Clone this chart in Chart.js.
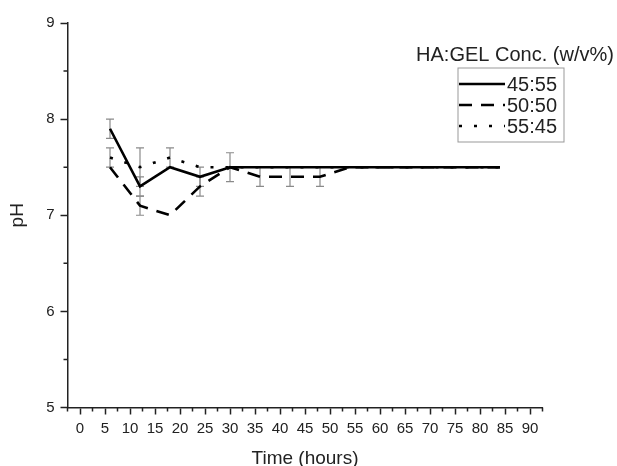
<!DOCTYPE html>
<html lang="en">
<head>
  <meta charset="UTF-8">
  <title>pH vs Time</title>
  <style>
    body {
      margin: 0;
      background-color: #fff;
    }
    #wrap {
      width: 617px;
      height: 466px;
    }
  </style>
</head>
<body>
  <div id="wrap"><canvas id="chart" width="617" height="466"></canvas></div>

  <script src="https://cdn.jsdelivr.net/npm/chart.js"></script>
  <script>
    const hours = [6, 12, 18, 24, 30, 36, 42, 48, 54, 60, 66, 72, 78, 84];
    const ph4555 = [7.9, 7.3, 7.5, 7.4, 7.5, 7.5, 7.5, 7.5, 7.5, 7.5, 7.5, 7.5, 7.5, 7.5];
    const ph5050 = [7.5, 7.1, 7.0, 7.3, 7.5, 7.4, 7.4, 7.4, 7.5, 7.5, 7.5, 7.5, 7.5, 7.5];
    const ph5545 = [7.6, 7.5, 7.6, 7.5, 7.5, 7.5, 7.5, 7.5, 7.5, 7.5, 7.5, 7.5, 7.5, 7.5];
    // standard deviations (0 = no bar drawn)
    const err4555 = [0.1, 0.1, 0, 0.1, 0.15, 0, 0, 0, 0, 0, 0, 0, 0, 0];
    const err5050 = [0, 0.1, 0, 0.1, 0, 0.1, 0.1, 0.1, 0, 0, 0, 0, 0, 0];
    const err5545 = [0.1, 0.2, 0.1, 0, 0, 0, 0, 0, 0, 0, 0, 0, 0, 0];
    const seriesNames = ['45:55', '50:50', '55:45'];
    const legendTitle = 'HA:GEL Conc. (w/v%)';

    const FONT = 'Arial, "Liberation Sans", sans-serif';
    const errors = [err4555, err5050, err5545];

    function pts(vals) {
      return hours.map((h, i) => ({ x: h, y: vals[i] }));
    }

    // error bars drawn from the scales
    const errorBars = {
      id: 'errorBars',
      beforeDatasetsDraw(chart) {
        const ctx = chart.ctx;
        const xs = chart.scales.x, ys = chart.scales.y;
        ctx.save();
        ctx.strokeStyle = '#8a8a8a';
        ctx.lineWidth = 1.2;
        chart.data.datasets.forEach((ds, d) => {
          ds.data.forEach((p, i) => {
            const e = errors[d][i];
            if (!e) return;
            const px = xs.getPixelForValue(p.x);
            const top = ys.getPixelForValue(p.y + e);
            const bot = ys.getPixelForValue(p.y - e);
            ctx.beginPath();
            ctx.moveTo(px, top); ctx.lineTo(px, bot);
            ctx.moveTo(px - 4, top); ctx.lineTo(px + 4, top);
            ctx.moveTo(px - 4, bot); ctx.lineTo(px + 4, bot);
            ctx.stroke();
          });
        });
        ctx.restore();
      }
    };

    // short minor ticks
    const minorTicks = {
      id: 'minorTicks',
      afterDraw(chart) {
        const ctx = chart.ctx;
        const xs = chart.scales.x, ys = chart.scales.y;
        ctx.save();
        ctx.strokeStyle = '#222';
        ctx.lineWidth = 1.5;
        ctx.beginPath();
        xs.ticks.forEach(t => {
          if (t.value % 5 !== 0) {
            const px = xs.getPixelForValue(t.value);
            ctx.moveTo(px, ys.bottom); ctx.lineTo(px, ys.bottom + 4);
          }
        });
        ys.ticks.forEach(t => {
          if (t.value % 1 !== 0) {
            const py = ys.getPixelForValue(t.value);
            ctx.moveTo(xs.left, py); ctx.lineTo(xs.left - 4, py);
          }
        });
        ctx.stroke();
        ctx.restore();
      }
    };

    // boxed legend with a title above it
    const boxLegend = {
      id: 'boxLegend',
      afterDraw(chart) {
        const ctx = chart.ctx;
        const bx = 458, by = 68, bw = 106, rowH = 21;
        ctx.save();
        ctx.fillStyle = '#222';
        ctx.font = '20px ' + FONT;
        ctx.textAlign = 'center';
        ctx.textBaseline = 'middle';
        ctx.fillText(legendTitle, 515, 55);
        ctx.strokeStyle = '#999';
        ctx.lineWidth = 1;
        ctx.strokeRect(bx, by, bw, rowH * 3 + 11);
        ctx.textAlign = 'left';
        chart.data.datasets.forEach((ds, i) => {
          const y = by + 16 + i * rowH;
          ctx.strokeStyle = '#000';
          ctx.lineWidth = ds.borderWidth;
          ctx.setLineDash(ds.borderDash || []);
          ctx.beginPath();
          ctx.moveTo(bx + 1, y); ctx.lineTo(bx + 47, y);
          ctx.stroke();
          ctx.setLineDash([]);
          ctx.fillText(ds.label, bx + 49, y + 1);
        });
        ctx.restore();
      }
    };

    Chart.defaults.font.family = FONT;
    Chart.defaults.color = '#222';

    new Chart(document.getElementById('chart'), {
      type: 'line',
      data: {
        datasets: [
          {
            label: seriesNames[0],
            data: pts(ph4555),
            borderColor: '#000',
            borderWidth: 2.6,
            pointRadius: 0
          },
          {
            label: seriesNames[1],
            data: pts(ph5050),
            borderColor: '#000',
            borderWidth: 2.6,
            borderDash: [13, 9],
            pointRadius: 0
          },
          {
            label: seriesNames[2],
            data: pts(ph5545),
            borderColor: '#000',
            borderWidth: 2.6,
            borderDash: [3, 12],
            pointRadius: 0
          }
        ]
      },
      options: {
        responsive: false,
        animation: false,
        layout: {
          padding: { top: 23, right: 74.5, left: 0, bottom: 0 }
        },
        plugins: {
          legend: { display: false },
          tooltip: { enabled: false }
        },
        scales: {
          x: {
            type: 'linear',
            min: -2.5,
            max: 92.5,
            afterFit: s => { s.height = 58.5; },
            afterBuildTicks: s => {
              const t = [];
              for (let v = -2.5; v <= 92.5; v += 2.5) t.push({ value: v });
              s.ticks = t;
            },
            border: { color: '#222', width: 1.5 },
            grid: {
              drawOnChartArea: false,
              tickLength: 7,
              tickWidth: 1.5,
              tickColor: c => (c.tick && c.tick.value % 5 === 0) ? '#222' : 'rgba(0,0,0,0)'
            },
            ticks: {
              autoSkip: false,
              maxRotation: 0,
              padding: 5,
              font: { size: 15 },
              callback: v => (v % 5 === 0 ? v : '')
            },
            title: {
              display: true,
              text: 'Time (hours)',
              font: { size: 19, lineHeight: 0.8 },
              padding: { top: 4, bottom: 0 }
            }
          },
          y: {
            min: 5,
            max: 9,
            afterFit: s => { s.width = 67.5; },
            border: { color: '#222', width: 1.5 },
            grid: {
              drawOnChartArea: false,
              tickLength: 7,
              tickWidth: 1.5,
              tickColor: c => (c.tick && c.tick.value % 1 === 0) ? '#222' : 'rgba(0,0,0,0)'
            },
            ticks: {
              stepSize: 0.5,
              padding: 6,
              font: { size: 15 },
              callback: v => (v % 1 === 0 ? v : '')
            },
            title: {
              display: true,
              text: 'pH',
              font: { size: 19 },
              padding: { top: 6, bottom: 0 }
            }
          }
        }
      },
      plugins: [errorBars, minorTicks, boxLegend]
    });
  </script>
</body>
</html>
